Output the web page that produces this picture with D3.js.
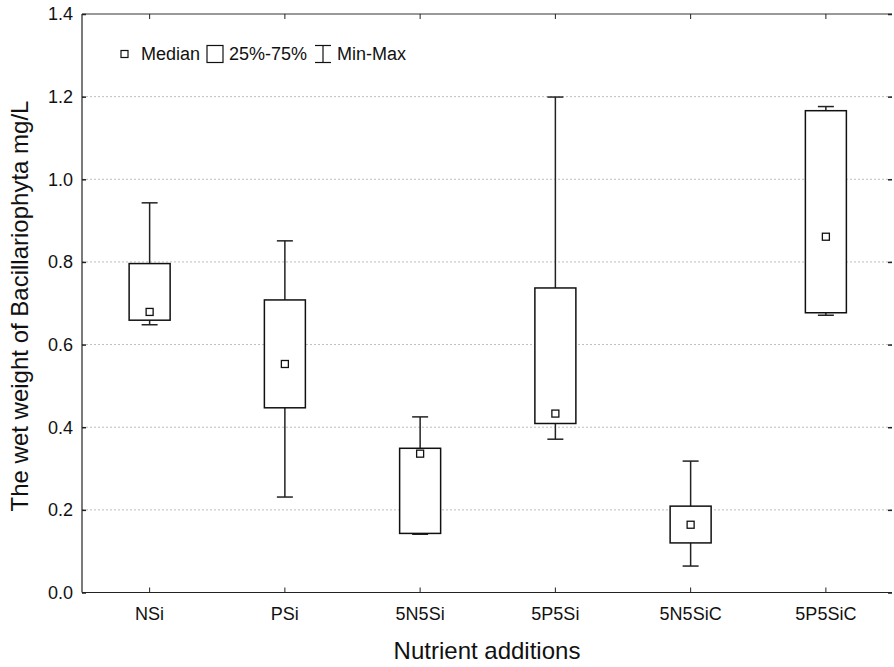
<!DOCTYPE html>
<html>
<head>
<meta charset="utf-8">
<script src="https://cdn.jsdelivr.net/npm/d3@7"></script>
<style>
  body { margin: 0; background: #fff; }
  svg text { font-family: "Liberation Sans", Arial, sans-serif; fill: #111; }
</style>
</head>
<body>
<div id="chart" style="width:894px;height:667px;"></div>
<script>
// data
const categories = ["NSi", "PSi", "5N5Si", "5P5Si", "5N5SiC", "5P5SiC"];
const minVals    = [0.648, 0.231, 0.141, 0.371, 0.064, 0.671];
const q1Vals     = [0.659, 0.447, 0.143, 0.409, 0.120, 0.677];
const medianVals = [0.679, 0.553, 0.336, 0.433, 0.164, 0.861];
const q3Vals     = [0.796, 0.708, 0.349, 0.737, 0.209, 1.166];
const maxVals    = [0.943, 0.851, 0.425, 1.199, 0.318, 1.176];
const yTicks     = [0, 0.2, 0.4, 0.6, 0.8, 1.0, 1.2, 1.4];

function renderBoxes(containerSelector) {
    const container = d3.select(containerSelector);
    const width = 894, height = 667;
    container.selectAll("*").remove();

    const margin = { top: 14, right: 2, bottom: 74.5, left: 82 };

    const svg = container.append("svg")
        .attr("width", width)
        .attr("height", height);

    const data = categories.map((c, i) => ({
        cat: c, min: minVals[i], q1: q1Vals[i], med: medianVals[i], q3: q3Vals[i], max: maxVals[i]
    }));

    const x = d3.scaleBand()
        .domain(categories)
        .range([margin.left, width - margin.right + 1.5]);

    const y = d3.scaleLinear()
        .domain([0, 1.4])
        .range([height - margin.bottom, margin.top]);

    const x0 = margin.left, x1 = width - margin.right;
    const y0 = height - margin.bottom, y1 = margin.top;

    // dotted grid
    svg.append("g")
        .selectAll("line")
        .data(yTicks.filter(d => d > 0 && d < 1.4))
        .join("line")
        .attr("x1", x0).attr("x2", x1)
        .attr("y1", d => y(d)).attr("y2", d => y(d))
        .attr("stroke", "#bdbdbd")
        .attr("stroke-width", 1)
        .attr("stroke-dasharray", "2,2");

    // frame: top line grey, left/bottom dark
    svg.append("line").attr("x1", x0).attr("x2", x1).attr("y1", y1).attr("y2", y1)
        .attr("stroke", "#777").attr("stroke-width", 1.5);
    svg.append("line").attr("x1", x0).attr("x2", x0).attr("y1", y1).attr("y2", y0)
        .attr("stroke", "#222").attr("stroke-width", 1.2);
    svg.append("line").attr("x1", x0).attr("x2", x1).attr("y1", y0).attr("y2", y0)
        .attr("stroke", "#222").attr("stroke-width", 1.2);

    // y axis (ticks pointing inward)
    const yAxis = svg.append("g")
        .attr("transform", `translate(${x0},0)`)
        .call(d3.axisRight(y).tickValues(yTicks).tickSize(4).tickFormat(""));
    yAxis.select(".domain").remove();
    yAxis.selectAll("line").attr("stroke", "#222").attr("stroke-width", 1.5);

    svg.append("g").selectAll("text")
        .data(yTicks)
        .join("text")
        .attr("x", x0 - 9)
        .attr("y", d => y(d))
        .attr("dy", "0.35em")
        .attr("text-anchor", "end")
        .style("font-size", "18px")
        .text(d => d3.format(".1f")(d));

    // right side tick stubs
    const yRight = svg.append("g")
        .attr("transform", `translate(${x1},0)`)
        .call(d3.axisLeft(y).tickValues(yTicks).tickSize(4).tickFormat(""));
    yRight.select(".domain").remove();
    yRight.selectAll("line").attr("stroke", "#222").attr("stroke-width", 1.5);

    // bottom axis ticks pointing up
    const xAxis = svg.append("g")
        .attr("transform", `translate(0,${y0})`)
        .call(d3.axisTop(x).tickSize(5).tickFormat(""));
    xAxis.select(".domain").remove();
    xAxis.selectAll("line").attr("stroke", "#222");

    const xTop = svg.append("g")
        .attr("transform", `translate(0,${y1})`)
        .call(d3.axisBottom(x).tickSize(5).tickFormat(""));
    xTop.select(".domain").remove();
    xTop.selectAll("line").attr("stroke", "#222");

    svg.append("g").selectAll("text")
        .data(categories)
        .join("text")
        .attr("x", d => x(d) + x.bandwidth() / 2)
        .attr("y", y0 + 27)
        .attr("text-anchor", "middle")
        .style("font-size", "18px")
        .text(d => d);

    // boxes
    const boxW = 41, capW = 16, medS = 7;
    const g = svg.append("g")
        .selectAll("g.box")
        .data(data)
        .join("g")
        .attr("class", "box")
        .attr("transform", d => `translate(${x(d.cat) + x.bandwidth() / 2},0)`);

    g.append("line")
        .attr("x1", 0).attr("x2", 0)
        .attr("y1", d => y(d.max)).attr("y2", d => y(d.q3))
        .attr("stroke", "#222").attr("stroke-width", 1.5);
    g.append("line")
        .attr("x1", 0).attr("x2", 0)
        .attr("y1", d => y(d.q1)).attr("y2", d => y(d.min))
        .attr("stroke", "#222").attr("stroke-width", 1.5);
    g.append("line")
        .attr("x1", -capW / 2).attr("x2", capW / 2)
        .attr("y1", d => y(d.max)).attr("y2", d => y(d.max))
        .attr("stroke", "#222").attr("stroke-width", 1.5);
    g.append("line")
        .attr("x1", -capW / 2).attr("x2", capW / 2)
        .attr("y1", d => y(d.min)).attr("y2", d => y(d.min))
        .attr("stroke", "#222").attr("stroke-width", 1.5);
    g.append("rect")
        .attr("x", -boxW / 2)
        .attr("width", boxW)
        .attr("y", d => y(d.q3))
        .attr("height", d => y(d.q1) - y(d.q3))
        .attr("fill", "#fff")
        .attr("stroke", "#111")
        .attr("stroke-width", 1.5);
    g.append("rect")
        .attr("x", -medS / 2)
        .attr("width", medS)
        .attr("y", d => y(d.med) - medS / 2)
        .attr("height", medS)
        .attr("fill", "#fff")
        .attr("stroke", "#111")
        .attr("stroke-width", 1.3);

    // legend
    const lg = svg.append("g").attr("transform", `translate(0, 54)`);
    lg.append("rect").attr("x", 121).attr("y", -3.5).attr("width", 7).attr("height", 7)
        .attr("fill", "#fff").attr("stroke", "#111").attr("stroke-width", 1.2);
    lg.append("text").attr("x", 141).attr("y", 0).attr("dy", "0.35em").style("font-size", "18px").text("Median");
    lg.append("rect").attr("x", 207).attr("y", -8.5).attr("width", 16).attr("height", 17)
        .attr("fill", "#fff").attr("stroke", "#111").attr("stroke-width", 1.2);
    lg.append("text").attr("x", 229).attr("y", 0).attr("dy", "0.35em").style("font-size", "18px").text("25%-75%");
    lg.append("line").attr("x1", 323).attr("x2", 323).attr("y1", -8.5).attr("y2", 8.5).attr("stroke", "#111").attr("stroke-width", 1.2);
    lg.append("line").attr("x1", 315).attr("x2", 331).attr("y1", -8.5).attr("y2", -8.5).attr("stroke", "#111").attr("stroke-width", 1.2);
    lg.append("line").attr("x1", 315).attr("x2", 331).attr("y1", 8.5).attr("y2", 8.5).attr("stroke", "#111").attr("stroke-width", 1.2);
    lg.append("text").attr("x", 337).attr("y", 0).attr("dy", "0.35em").style("font-size", "18px").text("Min-Max");

    // axis titles
    svg.append("text")
        .attr("x", (x0 + x1) / 2)
        .attr("y", 659)
        .attr("text-anchor", "middle")
        .style("font-size", "24px")
        .text("Nutrient additions");

    svg.append("text")
        .attr("transform", `translate(28,306) rotate(-90)`)
        .attr("text-anchor", "middle")
        .style("font-size", "24px")
        .text("The wet weight of Bacillariophyta mg/L");
}

renderBoxes("#chart");
</script>
</body>
</html>
